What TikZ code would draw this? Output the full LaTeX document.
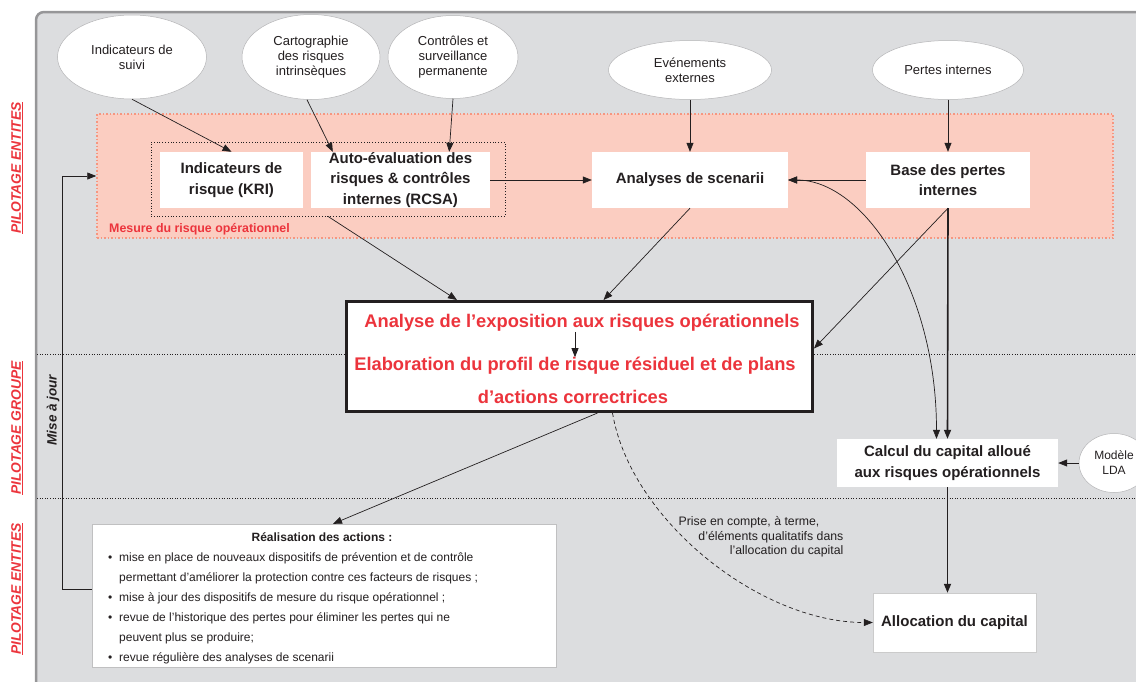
\documentclass[tikz,border=0pt]{standalone}
\usepackage{fontspec}
\setmainfont{Liberation Sans}
\usetikzlibrary{shapes.geometric,arrows.meta,calc}

\definecolor{fondgris}{RGB}{220,221,223}
\definecolor{bordgris}{RGB}{150,150,152}
\definecolor{rose}{RGB}{251,205,193}
\definecolor{saumon}{RGB}{246,150,128}
\definecolor{rouge}{RGB}{236,52,60}
\definecolor{encre}{RGB}{35,31,32}

\newcommand{\puce}{\makebox[11pt][l]{\textbullet}}
\newcommand{\retrait}{\hspace*{11pt}}

\begin{document}
\begin{tikzpicture}[x=1pt,y=-1pt,
    oval/.style={ellipse, fill=white, draw=bordgris!70, line width=0.5pt, align=center,
      inner sep=0pt, text=encre, font=\fontsize{13}{15}\selectfont},
    bloc/.style={fill=white, align=center, inner sep=0pt, text=encre,
      font=\bfseries\fontsize{15}{20.5}\selectfont},
    titrerouge/.style={text=rouge, inner sep=0pt, font=\bfseries\fontsize{18.3}{20}\selectfont},
    fleche/.style={-{Triangle[length=9pt,width=7pt]}, line width=0.7pt, draw=encre},
    grosse/.style={fleche, line width=1.6pt},
    pilote/.style={rotate=90, text=rouge, font=\bfseries\itshape\fontsize{13.8}{15}\selectfont},
    separation/.style={dotted, line width=0.6pt, draw=encre}]
  \useasboundingbox (0,0) rectangle (1136,681);

  % fond et bandes
  \draw[fill=fondgris, draw=bordgris, line width=2.5pt, rounded corners=8pt]
    (36,12) rectangle (1170,710);
  \draw[separation] (37,354) -- (1136,354);
  \draw[separation] (37,498) -- (1136,498);

  \node[pilote] (pe1) at (17,168) {\underline{PILOTAGE ENTITES}};
  \node[pilote] (pg) at (17,428) {\underline{PILOTAGE GROUPE}};
  \node[pilote] (pe2) at (17,589) {\underline{PILOTAGE ENTITES}};

  % zone de mesure
  \node[fill=rose, draw=saumon, line width=1.5pt, dash pattern=on 1.5pt off 2pt,
    minimum width=1016, minimum height=124, inner sep=0pt] (mesure) at (605,176) {};
  \node[anchor=base west, text=rouge, inner sep=0pt,
    font=\bfseries\fontsize{12.4}{13}\selectfont] (lmesure) at (109,232)
    {Mesure du risque opérationnel};
  \node[draw=encre, dotted, line width=0.8pt, minimum width=354, minimum height=74,
    inner sep=0pt] (selfeval) at (328,179) {};

  % sources
  \node[oval, minimum width=149, minimum height=84] (suivi) at (132,57) {Indicateurs de\\suivi};
  \node[oval, minimum width=138, minimum height=85] (carto) at (311,57) {Cartographie\\des risques\\intrinsèques};
  \node[oval, minimum width=130, minimum height=83] (controle) at (453,57) {Contrôles et\\surveillance\\permanente};
  \node[oval, minimum width=163, minimum height=59] (evenements) at (690,70) {Evénements\\externes};
  \node[oval, minimum width=151, minimum height=59] (pertes) at (948,70) {Pertes internes};
  \node[oval, minimum width=70, minimum height=59, font=\fontsize{12}{15}\selectfont] (lda) at (1114,463) {Modèle\\LDA};

  % blocs
  \node[bloc, minimum width=143, minimum height=56] (kri) at (231.5,180) {Indicateurs de\\risque (KRI)};
  \node[bloc, minimum width=179, minimum height=56] (rcsa) at (400.5,180) {Auto-évaluation des\\risques \& contrôles\\internes (RCSA)};
  \node[bloc, minimum width=196, minimum height=56] (analyses) at (690,180) {Analyses de scenarii};
  \node[bloc, minimum width=164, minimum height=56] (base) at (948,180) {Base des pertes\\internes};
  \node[bloc, minimum width=221, minimum height=48] (calcul) at (947.5,463) {Calcul du capital alloué\\aux risques opérationnels};
  \node[bloc, minimum width=163, minimum height=59, draw=bordgris!50, line width=0.4pt] (alloc) at (954.5,622.5) {Allocation du capital};

  \node[fill=white, draw=encre, line width=3pt, minimum width=466, minimum height=110,
    inner sep=0pt] (centre) at (579.5,356.5) {};
  \node[titrerouge] (exposition) at (582,323) {Analyse de l’exposition aux risques opérationnels};
  \node[titrerouge] (profil) at (575,366) {Elaboration du profil de risque résiduel et de plans};
  \node[titrerouge] (correct) at (573,397) {d’actions correctrices};

  \node[fill=white, draw=bordgris!60, line width=0.4pt, minimum width=464, minimum height=143,
    inner sep=0pt] (actions) at (324,595.5) {};
  \node[text=encre, inner sep=0pt, font=\bfseries\fontsize{12}{14}\selectfont] (tactions) at (322,537) {Réalisation des actions :};
  \node[anchor=west, align=left, text=encre, inner sep=0pt, font=\fontsize{12}{20}\selectfont] (liste) at (108,608)
    {\puce mise en place de nouveaux dispositifs de prévention et de contrôle\\
     \retrait permettant d’améliorer la protection contre ces facteurs de risques ;\\
     \puce mise à jour des dispositifs de mesure du risque opérationnel ;\\
     \puce revue de l’historique des pertes pour éliminer les pertes qui ne\\
     \retrait peuvent plus se produire;\\
     \puce revue régulière des analyses de scenarii};

  \node[align=right, text=encre, inner sep=0pt, font=\fontsize{12.3}{14.5}\selectfont] (prise) at (761,537)
    {Prise en compte, à terme,\hspace*{24pt}\\d’éléments qualitatifs dans\\l’allocation du capital};

  \node[rotate=90, text=encre, inner sep=0pt, font=\bfseries\itshape\fontsize{13.5}{15}\selectfont] (maj) at (53,410) {Mise à jour};

  % liens
  \draw[fleche] (suivi.south) -- (kri.north);
  \draw[fleche] ($(carto.south)+(-4,0)$) -- ($(rcsa.north west)+(22,0)$);
  \draw[fleche] (controle.south) -- ($(rcsa.north east)+(-41,0)$);
  \draw[fleche] (evenements.south) -- (analyses.north);
  \draw[fleche] (pertes.south) -- (base.north);
  \draw[fleche] (rcsa.east) -- (analyses.west);
  \draw[fleche] (base.west) -- (analyses.east);
  \draw[fleche, {Triangle[length=9pt,width=7pt]}-{Triangle[length=9pt,width=7pt]}]
    (analyses.east) .. controls ($(analyses.east)+(75,0)$) and ($(calcul.north)+(-11,-150)$)
    .. ($(calcul.north)+(-11,0)$);
  \draw[grosse] (base.south) -- (calcul.north);
  \draw[fleche] (base.south) -- ($(centre.east)+(0,-8)$);
  \draw[fleche] (selfeval.south) -- ($(centre.north west)+(112,0)$);
  \draw[fleche] (analyses.south) -- ($(centre.north)+(24,0)$);
  \draw[fleche] (exposition.south -| profil.north) -- (profil.north);
  \draw[fleche] ($(centre.south)+(18,0)$) -- ($(actions.north)+(9,0)$);
  \draw[fleche, dash pattern=on 4pt off 3pt] ($(centre.south)+(33,0)$)
    .. controls ($(centre.south)+(51,107)$) and ($(alloc.west)+(-113,0)$) .. (alloc.west);
  \draw[grosse] (calcul.south) -- (calcul.south |- alloc.north);
  \draw[fleche] (lda.west) -- (calcul.east);
  \draw[fleche] ($(actions.west)+(0,-6.5)$) -| ($(mesure.west)+(-34,0)$) -- (mesure.west);
\end{tikzpicture}
\end{document}
